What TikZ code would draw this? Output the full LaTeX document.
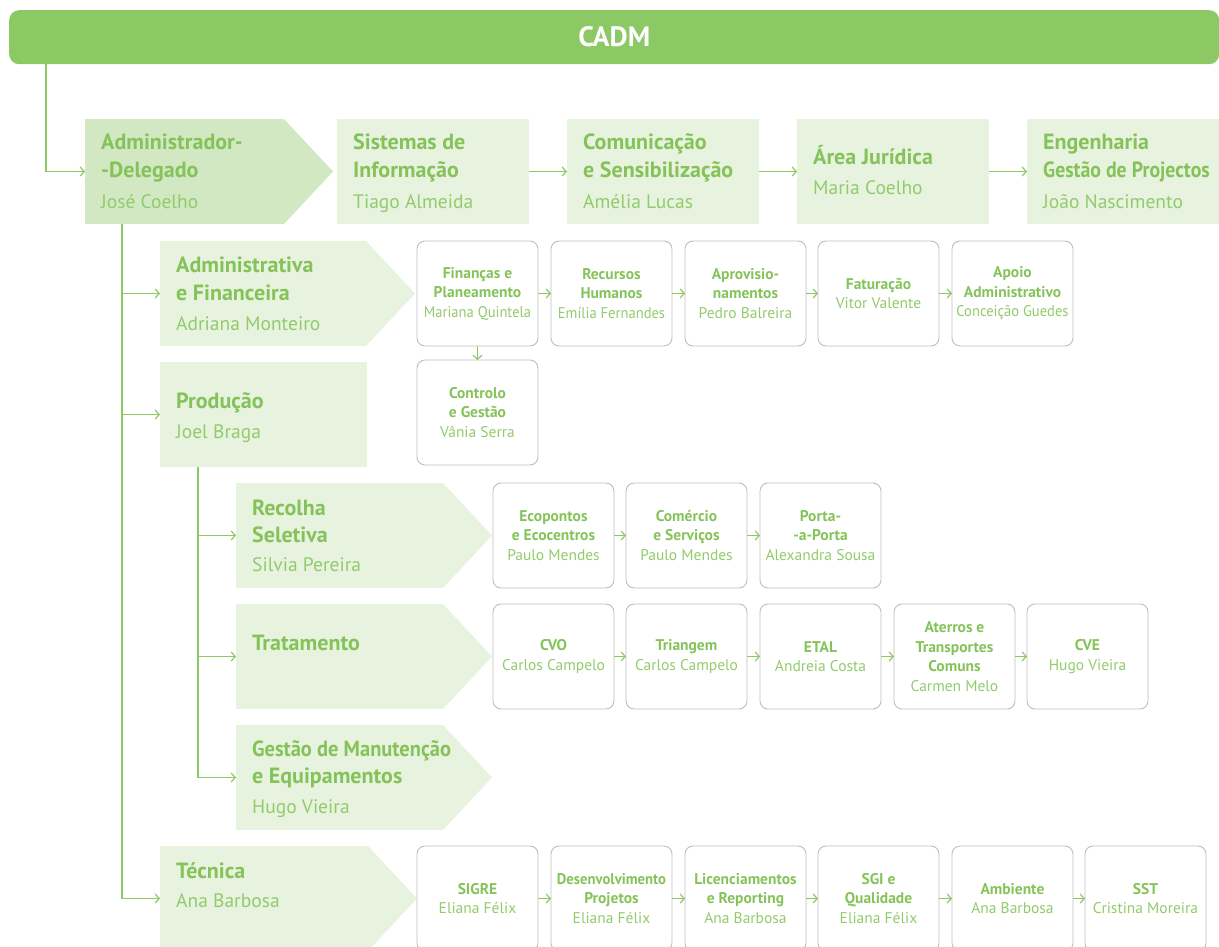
\documentclass[tikz,border=0pt]{standalone}
\usepackage{fontspec}
\usepackage{graphicx}
\setmainfont{PT Sans}
\usetikzlibrary{arrows.meta,calc}
\definecolor{barg}{HTML}{8CC864}
\definecolor{darkfill}{HTML}{D2E8C3}
\definecolor{lightfill}{HTML}{E7F3DF}
\definecolor{titleg}{HTML}{85C35A}
\definecolor{nameg}{HTML}{92CB6C}
\definecolor{lineg}{HTML}{8CC864}
\definecolor{boxgray}{HTML}{BDBDBD}
\tikzset{
  bigbox/.style={rectangle, inner sep=0pt, outer sep=0pt, anchor=north west, minimum height=105pt, fill=lightfill},
  sbox/.style={rectangle, draw=boxgray, line width=0.9pt, rounded corners=8pt, inner sep=0pt, outer sep=0pt,
    anchor=north west, minimum width=121pt, minimum height=105pt, align=center, text=titleg,
    font=\fontsize{15.5}{19.5}\selectfont},
  ttl/.style={anchor=base west, inner sep=0pt, text=titleg, font=\fontsize{22}{26}\selectfont\bfseries},
  nme/.style={anchor=base west, inner sep=0pt, text=nameg, font=\fontsize{19.5}{23}\selectfont},
  conn/.style={draw=lineg, line width=1.2pt, -{Straight Barb[length=4pt,width=9pt]}},
}
\newcommand{\bt}[1]{\textbf{#1}}
\newcommand{\pn}[1]{\textcolor{nameg}{#1}}
\newcommand{\sqz}[2]{\scalebox{#1}[1]{#2}}
\begin{document}
\begin{tikzpicture}[x=1pt,y=-1pt]
\useasboundingbox (0,0) rectangle (1219,947);
% CADM bar
\node[fill=barg, rounded corners=10pt, minimum width=1210pt, minimum height=54pt, anchor=north west,
  inner sep=0pt, text=white, font=\fontsize{28}{32}\selectfont\bfseries] (cadm) at (9,10) {CADM};

% top row
\node[bigbox, fill=darkfill, minimum width=199pt] (ad) at (85,119) {};
\fill[darkfill] (ad.north east) -- ($(ad.east)+(49,0)$) -- (ad.south east) -- cycle;
\node[bigbox, minimum width=192pt] (si) at (337,119) {};
\node[bigbox, minimum width=192pt] (co) at (567,119) {};
\node[bigbox, minimum width=192pt] (aj) at (797,119) {};
\node[bigbox, minimum width=192pt] (en) at (1027,119) {};

\node[ttl] (ad-t1) at ($(ad.north west)+(16,31)$) {Administrador-};
\node[ttl] (ad-t2) at ($(ad.north west)+(16,59)$) {-Delegado};
\node[nme] (ad-n) at ($(ad.north west)+(16,89)$) {José Coelho};
\node[ttl] (si-t1) at ($(si.north west)+(16,31)$) {Sistemas de};
\node[ttl] (si-t2) at ($(si.north west)+(16,59)$) {Informação};
\node[nme] (si-n) at ($(si.north west)+(16,89)$) {Tiago Almeida};
\node[ttl] (co-t1) at ($(co.north west)+(16,31)$) {Comunicação};
\node[ttl] (co-t2) at ($(co.north west)+(16,59)$) {e Sensibilização};
\node[nme] (co-n) at ($(co.north west)+(16,89)$) {Amélia Lucas};
\node[ttl] (aj-t1) at ($(aj.north west)+(16,46)$) {Área Jurídica};
\node[nme] (aj-n) at ($(aj.north west)+(16,75)$) {Maria Coelho};
\node[ttl] (en-t1) at ($(en.north west)+(16,31)$) {Engenharia};
\node[ttl] (en-t2) at ($(en.north west)+(16,59)$) {\sqz{0.9}{Gestão de Projectos}};
\node[nme] (en-n) at ($(en.north west)+(16,89)$) {João Nascimento};

% Administrativa e Financeira
\node[bigbox, minimum width=206pt] (af) at (160,241) {};
\fill[lightfill] (af.north east) -- ($(af.east)+(49,0)$) -- (af.south east) -- cycle;
\node[ttl] (af-t1) at ($(af.north west)+(16,31)$) {Administrativa};
\node[ttl] (af-t2) at ($(af.north west)+(16,59)$) {e Financeira};
\node[nme] (af-n) at ($(af.north west)+(16,89)$) {Adriana Monteiro};
\node[sbox] (fin) at (417,241) {\bt{Finanças e}\\\bt{Planeamento}\\\pn{\sqz{0.94}{Mariana Quintela}}};
\node[sbox] (rh) at (551,241) {\bt{Recursos}\\\bt{Humanos}\\\pn{\sqz{0.94}{Emília Fernandes}}};
\node[sbox] (apr) at (685,241) {\bt{Aprovisio-}\\\bt{namentos}\\\pn{Pedro Balreira}};
\node[sbox] (fat) at (818,241) {\bt{Faturação}\\\pn{Vitor Valente}};
\node[sbox] (apo) at (952,241) {\bt{Apoio}\\\bt{Administrativo}\\\pn{\sqz{0.94}{Conceição Guedes}}};
\node[sbox] (cg) at (417,360) {\bt{Controlo}\\\bt{e Gestão}\\\pn{Vânia Serra}};

% Producao
\node[bigbox, minimum width=207pt] (pr) at (160,362) {};
\node[ttl] (pr-t1) at ($(pr.north west)+(16,46)$) {Produção};
\node[nme] (pr-n) at ($(pr.north west)+(16,76)$) {Joel Braga};

% Recolha Seletiva
\node[bigbox, minimum width=207pt] (rs) at (236,483) {};
\fill[lightfill] (rs.north east) -- ($(rs.east)+(49,0)$) -- (rs.south east) -- cycle;
\node[ttl] (rs-t1) at ($(rs.north west)+(16,32)$) {Recolha};
\node[ttl] (rs-t2) at ($(rs.north west)+(16,59)$) {Seletiva};
\node[nme] (rs-n) at ($(rs.north west)+(16,88)$) {Silvia Pereira};
\node[sbox] (eco) at (493,483) {\bt{Ecopontos}\\\bt{e Ecocentros}\\\pn{Paulo Mendes}};
\node[sbox] (com) at (626,483) {\bt{Comércio}\\\bt{e Serviços}\\\pn{Paulo Mendes}};
\node[sbox] (pap) at (760,483) {\bt{Porta-}\\\bt{-a-Porta}\\\pn{Alexandra Sousa}};

% Tratamento
\node[bigbox, minimum width=207pt] (tr) at (236,604) {};
\fill[lightfill] (tr.north east) -- ($(tr.east)+(49,0)$) -- (tr.south east) -- cycle;
\node[ttl] (tr-t1) at ($(tr.north west)+(16,46)$) {Tratamento};
\node[sbox] (cvo) at (493,604) {\bt{CVO}\\\pn{Carlos Campelo}};
\node[sbox] (tri) at (626,604) {\bt{Triangem}\\\pn{Carlos Campelo}};
\node[sbox] (etal) at (760,604) {\bt{ETAL}\\\pn{Andreia Costa}};
\node[sbox] (ate) at (894,604) {\bt{Aterros e}\\\bt{Transportes}\\\bt{Comuns}\\\pn{Carmen Melo}};
\node[sbox] (cve) at (1027,604) {\bt{CVE}\\\pn{Hugo Vieira}};

% Gestao de Manutencao
\node[bigbox, minimum width=207pt] (gm) at (236,725) {};
\fill[lightfill] (gm.north east) -- ($(gm.east)+(49,0)$) -- (gm.south east) -- cycle;
\node[ttl] (gm-t1) at ($(gm.north west)+(16,31)$) {\sqz{0.93}{Gestão de Manutenção}};
\node[ttl] (gm-t2) at ($(gm.north west)+(16,58)$) {e Equipamentos};
\node[nme] (gm-n) at ($(gm.north west)+(16,88)$) {Hugo Vieira};

% Tecnica
\node[bigbox, minimum width=208pt] (te) at (160,846) {};
\fill[lightfill] (te.north east) -- ($(te.east)+(49,0)$) -- (te.south east) -- cycle;
\node[ttl] (te-t1) at ($(te.north west)+(16,32)$) {Técnica};
\node[nme] (te-n) at ($(te.north west)+(16,61)$) {Ana Barbosa};
\node[sbox] (sig) at (417,846) {\bt{SIGRE}\\\pn{Eliana Félix}};
\node[sbox] (des) at (551,846) {\bt{\sqz{0.95}{Desenvolvimento}}\\\bt{Projetos}\\\pn{Eliana Félix}};
\node[sbox] (lic) at (685,846) {\bt{Licenciamentos}\\\bt{e Reporting}\\\pn{Ana Barbosa}};
\node[sbox] (sgi) at (818,846) {\bt{SGI e}\\\bt{Qualidade}\\\pn{Eliana Félix}};
\node[sbox] (amb) at (952,846) {\bt{Ambiente}\\\pn{Ana Barbosa}};
\node[sbox] (sst) at (1085,846) {\bt{SST}\\\pn{Cristina Moreira}};

% connectors
\coordinate (cadmdrop) at ($(cadm.south west)+(37,0)$);
\draw[conn] (cadmdrop) |- (ad.west);
\draw[conn] (si.east) -- (co.west);
\draw[conn] (co.east) -- (aj.west);
\draw[conn] (aj.east) -- (en.west);
\coordinate (adtrunk) at ($(ad.south west)+(37,0)$);
\draw[conn] (adtrunk) |- (af.west);
\draw[conn] (adtrunk) |- (pr.west);
\draw[conn] (adtrunk) |- (te.west);
\coordinate (prtrunk) at ($(pr.south west)+(38,0)$);
\draw[conn] (prtrunk) |- (rs.west);
\draw[conn] (prtrunk) |- (tr.west);
\draw[conn] (prtrunk) |- (gm.west);
\draw[conn] (fin) -- (rh);
\draw[conn] (rh) -- (apr);
\draw[conn] (apr) -- (fat);
\draw[conn] (fat) -- (apo);
\draw[conn] (fin) -- (cg);
\draw[conn] (eco) -- (com);
\draw[conn] (com) -- (pap);
\draw[conn] (cvo) -- (tri);
\draw[conn] (tri) -- (etal);
\draw[conn] (etal) -- (ate);
\draw[conn] (ate) -- (cve);
\draw[conn] (sig) -- (des);
\draw[conn] (des) -- (lic);
\draw[conn] (lic) -- (sgi);
\draw[conn] (sgi) -- (amb);
\draw[conn] (amb) -- (sst);
\end{tikzpicture}
\end{document}
